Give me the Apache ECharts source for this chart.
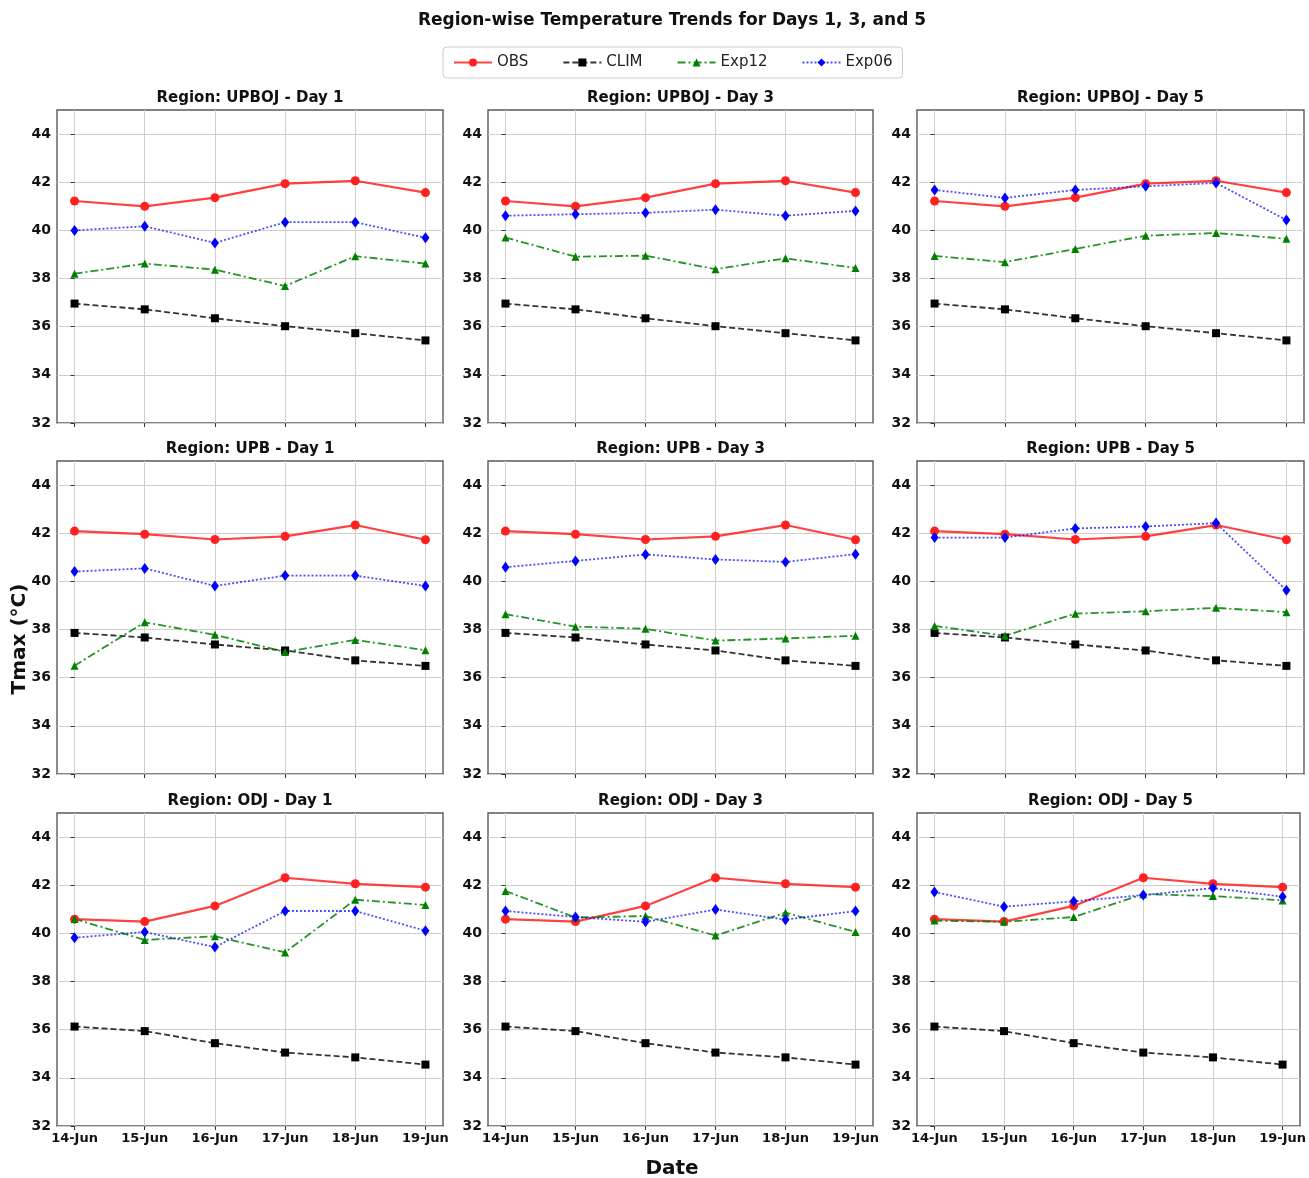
<!DOCTYPE html>
<html>
<head>
<meta charset="utf-8">
<title>Region-wise Temperature Trends</title>
<script src="https://cdn.jsdelivr.net/npm/echarts@6/dist/echarts.min.js"></script>
<style>
  html, body { margin: 0; padding: 0; background: #fff; }
  #chart { width: 1309px; height: 1178px; }
</style>
</head>
<body>
<div id="chart"></div>
<script>
// categories / ticks
const categories = ['14-Jun', '15-Jun', '16-Jun', '17-Jun', '18-Jun', '19-Jun']
const regions = ['UPBOJ', 'UPB', 'ODJ']
const days = [1, 3, 5]
const yTicks = [32, 34, 36, 38, 40, 42, 44]

// observed and climatology (same for every day of a region)
const obsUPBOJ = [41.22, 41.0, 41.36, 41.94, 42.06, 41.57]
const climUPBOJ = [36.96, 36.72, 36.35, 36.02, 35.73, 35.43]
const obsUPB = [42.09, 41.96, 41.74, 41.87, 42.34, 41.73]
const climUPB = [37.86, 37.67, 37.38, 37.13, 36.72, 36.49]
const obsODJ = [40.59, 40.49, 41.14, 42.31, 42.06, 41.92]
const climODJ = [36.13, 35.94, 35.44, 35.05, 34.85, 34.55]

// experiments, per region and lead day
const exp12UPBOJ_d1 = [38.2, 38.62, 38.37, 37.69, 38.93, 38.62]
const exp06UPBOJ_d1 = [40.0, 40.17, 39.48, 40.34, 40.34, 39.69]
const exp12UPBOJ_d3 = [39.7, 38.91, 38.95, 38.39, 38.84, 38.44]
const exp06UPBOJ_d3 = [40.61, 40.67, 40.73, 40.86, 40.61, 40.81]
const exp12UPBOJ_d5 = [38.94, 38.68, 39.23, 39.78, 39.89, 39.65]
const exp06UPBOJ_d5 = [41.68, 41.35, 41.68, 41.83, 41.97, 40.43]

const exp12UPB_d1 = [36.5, 38.3, 37.78, 37.07, 37.57, 37.14]
const exp06UPB_d1 = [40.41, 40.54, 39.81, 40.24, 40.24, 39.81]
const exp12UPB_d3 = [38.64, 38.12, 38.03, 37.54, 37.63, 37.74]
const exp06UPB_d3 = [40.59, 40.85, 41.12, 40.91, 40.81, 41.13]
const exp12UPB_d5 = [38.15, 37.74, 38.66, 38.76, 38.9, 38.72]
const exp06UPB_d5 = [41.82, 41.82, 42.2, 42.28, 42.42, 39.63]

const exp12ODJ_d1 = [40.6, 39.73, 39.88, 39.21, 41.4, 41.18]
const exp06ODJ_d1 = [39.82, 40.06, 39.43, 40.93, 40.93, 40.11]
const exp12ODJ_d3 = [41.76, 40.66, 40.72, 39.91, 40.86, 40.06]
const exp06ODJ_d3 = [40.93, 40.68, 40.48, 40.99, 40.57, 40.93]
const exp12ODJ_d5 = [40.53, 40.48, 40.68, 41.63, 41.55, 41.37]
const exp06ODJ_d5 = [41.72, 41.11, 41.33, 41.59, 41.88, 41.52]

const panelData = {
  UPBOJ: { obs: obsUPBOJ, clim: climUPBOJ,
    exp12: [exp12UPBOJ_d1, exp12UPBOJ_d3, exp12UPBOJ_d5],
    exp06: [exp06UPBOJ_d1, exp06UPBOJ_d3, exp06UPBOJ_d5] },
  UPB: { obs: obsUPB, clim: climUPB,
    exp12: [exp12UPB_d1, exp12UPB_d3, exp12UPB_d5],
    exp06: [exp06UPB_d1, exp06UPB_d3, exp06UPB_d5] },
  ODJ: { obs: obsODJ, clim: climODJ,
    exp12: [exp12ODJ_d1, exp12ODJ_d3, exp12ODJ_d5],
    exp06: [exp06ODJ_d1, exp06ODJ_d3, exp06ODJ_d5] },
}

const FONT = 'DejaVu Sans'
const xIdx = categories.map((_, i) => i)

// panel geometry (pixels)
const colLeft = [57, 488, 917]
const colWidth = [386, 385, 387]
const rowTop = [110, 461, 813]
const rowHeight = 313
const figCenter = 672

// line styles, matplotlib-ish
const styles = {
  OBS: { color: '#ff2020', symbol: 'circle', size: 9, line: { type: 'solid', width: 2.2 }, opacity: 0.85 },
  CLIM: { color: '#000000', symbol: 'rect', size: 8, line: { type: [6, 3], width: 1.8 }, opacity: 0.8 },
  Exp12: { color: '#008000', symbol: 'triangle', size: 8, line: { type: [8, 3, 2, 3], width: 1.8 }, opacity: 0.85 },
  Exp06: { color: '#0000ff', symbol: 'diamond', size: [8, 11], line: { type: [2, 2], width: 1.8 }, opacity: 0.7 },
}

function makeSeries(name, values, k) {
  const s = styles[name]
  return {
    name,
    type: 'line',
    xAxisIndex: k,
    yAxisIndex: k,
    data: values.map((v, i) => [xIdx[i], v]),
    symbol: s.symbol,
    symbolSize: s.size,
    showSymbol: true,
    itemStyle: { color: s.color },
    lineStyle: { color: s.color, width: s.line.width, type: s.line.type, opacity: s.opacity },
    emphasis: { disabled: true },
    animation: false,
  }
}

const grids = []
const xAxes = []
const yAxes = []
const series = []
const graphics = []

regions.forEach((region, r) => {
  days.forEach((day, c) => {
    const k = r * 3 + c
    const d = panelData[region]
    grids.push({
      left: colLeft[c], top: rowTop[r], width: colWidth[c], height: rowHeight,
      show: true, borderColor: '#5a5a5a', borderWidth: 1.4, backgroundColor: 'transparent',
    })
    xAxes.push({
      gridIndex: k,
      type: 'value',
      min: -0.25,
      max: 5.25,
      axisLine: { show: false },
      axisTick: { show: true, customValues: xIdx, length: 4, lineStyle: { color: '#333' } },
      axisLabel: {
        show: r === 2, customValues: xIdx, formatter: v => categories[v],
        fontFamily: FONT, fontWeight: 'bold', fontSize: 13, color: '#111', margin: 6,
      },
      splitLine: { show: true, lineStyle: { color: '#cfcfcf', width: 1 } },
    })
    yAxes.push({
      gridIndex: k,
      type: 'value',
      min: 32,
      max: 45,
      axisLine: { show: false },
      axisTick: { show: true, customValues: yTicks, length: 4, lineStyle: { color: '#333' } },
      axisLabel: {
        customValues: yTicks,
        fontFamily: FONT, fontWeight: 'bold', fontSize: 14, color: '#111', margin: 6,
      },
      splitLine: { show: true, lineStyle: { color: '#cfcfcf', width: 1 } },
    })
    series.push(makeSeries('OBS', d.obs, k))
    series.push(makeSeries('CLIM', d.clim, k))
    series.push(makeSeries('Exp12', d.exp12[c], k))
    series.push(makeSeries('Exp06', d.exp06[c], k))
    graphics.push({
      type: 'text',
      x: colLeft[c] + colWidth[c] / 2,
      y: rowTop[r] - 12,
      style: {
        text: `Region: ${region} - Day ${day}`,
        fontFamily: FONT, fontWeight: 'bold', fontSize: 15, fill: '#111',
        textAlign: 'center', textVerticalAlign: 'middle',
      },
    })
  })
})

// figure title and shared axis titles
graphics.push({
  type: 'text', x: figCenter, y: 21,
  style: {
    text: 'Region-wise Temperature Trends for Days 1, 3, and 5',
    fontFamily: FONT, fontWeight: 'bold', fontSize: 17, fill: '#111',
    textAlign: 'center', textVerticalAlign: 'middle',
  },
})
graphics.push({
  type: 'text', x: 20, y: 639, rotation: Math.PI / 2,
  style: {
    text: 'Tmax (°C)', fontFamily: FONT, fontWeight: 'bold', fontSize: 20, fill: '#111',
    textAlign: 'center', textVerticalAlign: 'middle',
  },
})
graphics.push({
  type: 'text', x: figCenter, y: 1169,
  style: {
    text: 'Date', fontFamily: FONT, fontWeight: 'bold', fontSize: 20, fill: '#111',
    textAlign: 'center', textVerticalAlign: 'middle',
  },
})

const chart = echarts.init(document.getElementById('chart'), null, { renderer: 'canvas' })
chart.setOption({
  animation: false,
  backgroundColor: '#ffffff',
  legend: {
    data: ['OBS', 'CLIM', 'Exp12', 'Exp06'],
    top: 47,
    left: 443,
    padding: [8, 10],
    itemGap: 34,
    itemWidth: 38,
    itemHeight: 10,
    borderColor: '#cccccc',
    borderWidth: 1,
    borderRadius: 4,
    textStyle: { fontFamily: FONT, fontSize: 15, color: '#222' },
    selectedMode: false,
  },
  grid: grids,
  xAxis: xAxes,
  yAxis: yAxes,
  series,
  graphic: graphics,
})
</script>
</body>
</html>
